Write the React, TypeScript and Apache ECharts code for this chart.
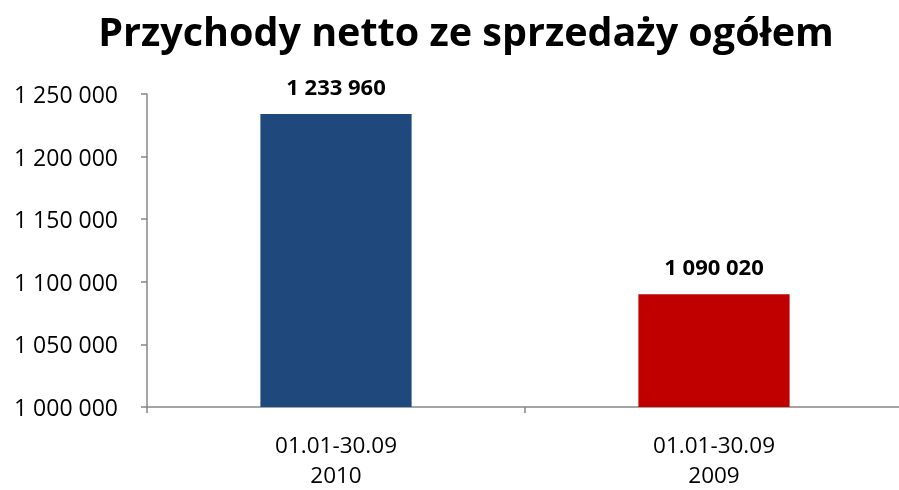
import React, { useEffect, useRef } from "react";
import * as echarts from "echarts";

const title = "Przychody netto ze sprzedaży ogółem";
const categories = ["01.01-30.09\n2010", "01.01-30.09\n2009"];
const values = [1233960, 1090020];
const barColors = ["#1F497D", "#C00000"];
const yMin = 1000000;
const yMax = 1250000;
const yStep = 50000;

const fmt = (v: number) => String(Math.round(v)).replace(/\B(?=(\d{3})+(?!\d))/g, " ");

export default function App() {
  const ref = useRef<HTMLDivElement>(null);
  useEffect(() => {
    const chart = echarts.init(ref.current!, null, { renderer: "svg" });
    const font = "'Open Sans', sans-serif";
    chart.setOption({
      animation: false,
      title: {
        text: title,
        left: 461,
        textAlign: "center",
        top: 6,
        textStyle: { fontFamily: font, fontWeight: "bold", fontSize: 39.5, color: "#000" },
      },
      grid: {
        left: 147,
        width: 756,
        top: 94,
        height: 313,
        containLabel: false,
        outerBoundsMode: "none",
      },
      xAxis: {
        type: "category",
        data: categories,
        axisLine: { lineStyle: { color: "#868686", width: 1.5 } },
        axisTick: { show: true, length: 6, lineStyle: { color: "#868686", width: 1.5 } },
        axisLabel: {
          fontFamily: font,
          fontSize: 22.5,
          color: "#000",
          margin: 22,
          lineHeight: 30.5,
        },
      },
      yAxis: {
        type: "value",
        min: yMin,
        max: yMax,
        interval: yStep,
        splitLine: { show: false },
        axisLine: { show: true, lineStyle: { color: "#868686", width: 1.5 } },
        axisTick: { show: true, length: 6, lineStyle: { color: "#868686", width: 1.5 } },
        axisLabel: {
          fontFamily: font,
          fontSize: 23,
          color: "#000",
          margin: 29,
          formatter: (v: number) => fmt(v),
        },
      },
      series: [
        {
          type: "bar",
          barWidth: "40%",
          data: values.map((v, i) => ({ value: v, itemStyle: { color: barColors[i] } })),
          label: {
            show: true,
            position: "top",
            distance: 17,
            fontFamily: font,
            fontWeight: "bold",
            fontSize: 22,
            color: "#000",
            formatter: (p: any) => fmt(p.value),
          },
        },
      ],
    });
    return () => chart.dispose();
  }, []);
  return (
    <div
      ref={ref}
      style={{ width: 899, height: 490, position: "fixed", left: 0, top: 0, overflow: "hidden" }}
    />
  );
}
